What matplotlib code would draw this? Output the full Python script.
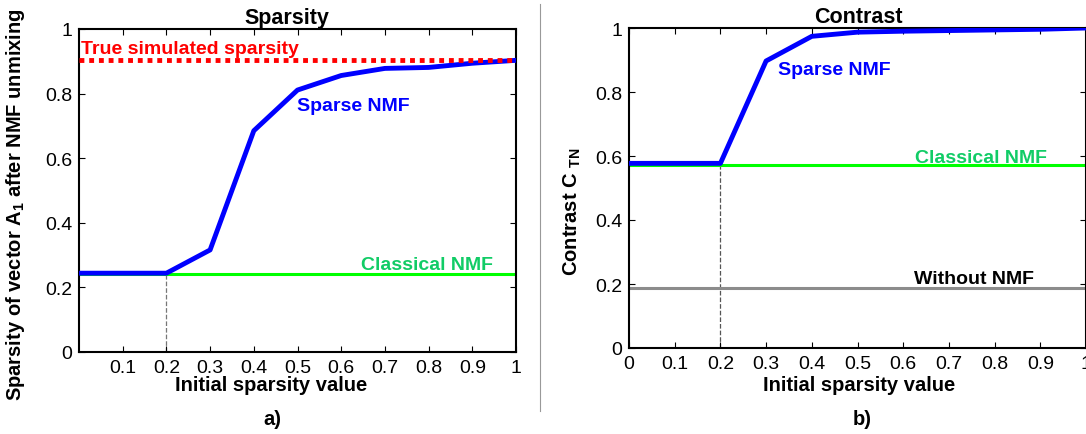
import matplotlib
matplotlib.use('Agg')
import matplotlib.pyplot as plt
from matplotlib.lines import Line2D
from matplotlib.ticker import FormatStrFormatter

plt.rcParams['font.family'] = ['Liberation Sans', 'DejaVu Sans']
plt.rcParams['mathtext.fontset'] = 'custom'
plt.rcParams['mathtext.rm'] = 'Liberation Sans'
plt.rcParams['mathtext.bf'] = 'Liberation Sans:bold'

# --- data ---
init_sparsity = [0.0, 0.1, 0.2, 0.3, 0.4, 0.5, 0.6, 0.7, 0.8, 0.9, 1.0]

sparse_nmf_sparsity = [0.244, 0.244, 0.244, 0.316, 0.685, 0.811, 0.856, 0.878, 0.881, 0.894, 0.903]
classical_sparsity = 0.242
true_sparsity = 0.903

sparse_nmf_contrast = [0.577, 0.577, 0.577, 0.897, 0.974, 0.987, 0.990, 0.992, 0.994, 0.996, 1.0]
classical_contrast = 0.572
without_nmf_contrast = 0.187

left_xticks = [0.1, 0.2, 0.3, 0.4, 0.5, 0.6, 0.7, 0.8, 0.9, 1.0]
right_xticks = [0.0, 0.1, 0.2, 0.3, 0.4, 0.5, 0.6, 0.7, 0.8, 0.9, 1.0]
yticks = [0.0, 0.2, 0.4, 0.6, 0.8, 1.0]

BLUE = '#0000ff'
GREEN = '#00ff00'
GREEN_TXT = '#11cc66'
RED = '#ff0000'
GREY = '#8c8c8c'

TICK_FS = 14
NOTE_FS = 14
LABEL_FS = 14.5
TITLE_FS = 15.5

W, H = 1086, 435
fig = plt.figure(figsize=(W / 100, H / 100), dpi=100)
fig.patch.set_facecolor('white')


def px_axes(x0, y_top, x1, y_bot):
    return fig.add_axes([x0 / W, (H - y_bot) / H, (x1 - x0) / W, (y_bot - y_top) / H])


def style(ax, xticks):
    ax.set_xlim(0, 1)
    ax.set_ylim(0, 1)
    ax.set_xticks(xticks)
    ax.set_yticks(yticks)
    ax.xaxis.set_major_formatter(FormatStrFormatter('%g'))
    ax.yaxis.set_major_formatter(FormatStrFormatter('%g'))
    ax.tick_params(direction='in', top=True, right=True, length=4, width=0.8,
                   labelsize=TICK_FS, pad=5)
    for sp in ax.spines.values():
        sp.set_linewidth(1.5)


# ---------- a) Sparsity ----------
ax1 = px_axes(79, 30, 516, 353)
style(ax1, left_xticks)
ax1.plot([0.2, 0.2], [0, sparse_nmf_sparsity[2]], ls='--', color='#777777', lw=0.9, zorder=1)
ax1.axhline(classical_sparsity, color=GREEN, lw=2.2, zorder=2)
ax1.plot(init_sparsity, sparse_nmf_sparsity, color=BLUE, lw=3.5, zorder=3)
ax1.axhline(true_sparsity, color=RED, lw=3.5, ls=(0, (1, 1)), zorder=4)

ax1.text(0.005, 0.912, 'True simulated sparsity', color=RED, fontsize=NOTE_FS,
         fontweight='bold', va='bottom', ha='left')
ax1.text(0.498, 0.762, 'Sparse NMF', color=BLUE, fontsize=NOTE_FS, fontweight='bold',
         va='center', ha='left')
ax1.text(0.645, 0.27, 'Classical NMF', color=GREEN_TXT, fontsize=NOTE_FS,
         fontweight='bold', va='center', ha='left')

ax1.set_title('Sparsity', fontsize=TITLE_FS, fontweight='bold', x=0.476, pad=4)
ax1.set_xlabel('Initial sparsity value', fontsize=LABEL_FS, fontweight='bold')
ax1.xaxis.set_label_coords(0.44, -0.07)
ax1.set_ylabel(r'Sparsity of vector A$_\mathbf{1}$ after NMF unmixing',
               fontsize=LABEL_FS, fontweight='bold')
ax1.yaxis.set_label_coords(-0.118, 0.46)

# ---------- b) Contrast ----------
ax2 = px_axes(629, 29, 1086, 349)
style(ax2, right_xticks)
ax2.plot([0.2, 0.2], [0, sparse_nmf_contrast[2]], ls='--', color='#555555', lw=0.9, zorder=1)
ax2.axhline(without_nmf_contrast, color=GREY, lw=2.2, zorder=2)
ax2.axhline(classical_contrast, color=GREEN, lw=2.2, zorder=2)
ax2.plot(init_sparsity, sparse_nmf_contrast, color=BLUE, lw=3.5, zorder=3)

ax2.text(0.326, 0.87, 'Sparse NMF', color=BLUE, fontsize=NOTE_FS, fontweight='bold',
         va='center', ha='left')
ax2.text(0.625, 0.596, 'Classical NMF', color=GREEN_TXT, fontsize=NOTE_FS,
         fontweight='bold', va='center', ha='left')
ax2.text(0.623, 0.218, 'Without NMF', color='black', fontsize=NOTE_FS,
         fontweight='bold', va='center', ha='left')

ax2.set_title('Contrast', fontsize=TITLE_FS, fontweight='bold', x=0.503, pad=4)
ax2.set_xlabel('Initial sparsity value', fontsize=LABEL_FS, fontweight='bold')
ax2.xaxis.set_label_coords(0.504, -0.083)
ax2.set_ylabel(r'Contrast C $_\mathbf{TN}$', fontsize=LABEL_FS, fontweight='bold')
ax2.yaxis.set_label_coords(-0.1, 0.43)

# panel letters and separator
fig.text(272 / W, 1 - 420 / H, 'a)', fontsize=LABEL_FS, fontweight='bold', ha='center', va='center')
fig.text(862 / W, 1 - 420 / H, 'b)', fontsize=LABEL_FS, fontweight='bold', ha='center', va='center')
fig.add_artist(Line2D([540 / W, 540 / W], [1 - 5 / H, 1 - 412 / H], color='#999999', lw=0.8))

fig.savefig('out.png', dpi=100, facecolor='white')
